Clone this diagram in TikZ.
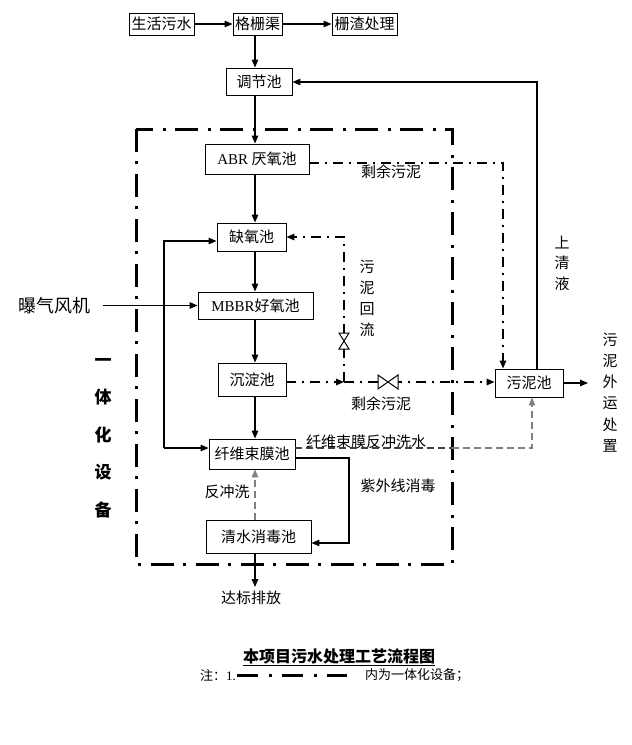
\documentclass[tikz,border=0pt]{standalone}
\usepackage{fontspec}
\setmainfont{Noto Sans CJK SC}
\newfontfamily\latin{Liberation Serif}
\usetikzlibrary{arrows.meta,calc}
\begin{document}
\begin{tikzpicture}[x=1pt,y=-1pt,
 box/.style={draw, line width=0.9pt, inner sep=0pt, font=\fontsize{15}{18}\selectfont},
 lbl/.style={inner sep=0pt, font=\fontsize{15}{18}\selectfont},
 vlbl/.style={inner sep=0pt, align=center, font=\fontsize{15}{#1}\selectfont},
 tip/.style={-{Triangle[length=8pt,width=6.5pt]}},
 ln/.style={line width=1.2pt},
 arr/.style={ln, tip},
 sdash/.style={line width=1.5pt, dash pattern=on 10pt off 6pt on 2pt off 6pt},
 bigdash/.style={line width=3pt, dash pattern=on 23pt off 9pt on 3pt off 10pt},
 gdash/.style={line width=1.1pt, gray, dash pattern=on 7pt off 4pt},
 kdash/.style={line width=1.1pt, black!75, dash pattern=on 7pt off 4pt},
 valve/.style={line width=1pt, fill=white},
]
\fill[white] (0,0) rectangle (632,745);
\useasboundingbox (0,0) rectangle (632,745);

% frame of the integrated unit
\draw[bigdash] (136,129) rectangle (452,564);

% boxes
\node[box, minimum width=65pt, minimum height=22pt] (sh) at (161.5,24) {生活污水};
\node[box, minimum width=49pt, minimum height=22pt] (gs) at (257.5,24) {格栅渠};
\node[box, minimum width=65pt, minimum height=22pt] (zz) at (364.5,24) {栅渣处理};
\node[box, minimum width=66pt, minimum height=27pt] (tj) at (259,81.5) {调节池};
\node[box, minimum width=104pt, minimum height=30pt] (abr) at (257,159) {{\latin ABR} 厌氧池};
\node[box, minimum width=69pt, minimum height=28pt] (qy) at (251.5,237) {缺氧池};
\node[box, minimum width=115pt, minimum height=27pt] (mb) at (255.5,305.5) {{\latin MBBR}好氧池};
\node[box, minimum width=68pt, minimum height=33pt] (cd) at (252,379.5) {沉淀池};
\node[box, minimum width=86pt, minimum height=30pt] (xw) at (252,454) {纤维束膜池};
\node[box, minimum width=105pt, minimum height=33pt] (qs) at (258.5,536.5) {清水消毒池};
\node[box, minimum width=68pt, minimum height=28pt] (wn) at (529,383) {污泥池};

% helper coordinates
\coordinate (ax) at (255,0);
\coordinate (lt) at (164,241);
\coordinate (lb) at (164,448);
\coordinate (j1) at (344,382);
\coordinate (ab) at (503,163);
\coordinate (sq) at (537,82);
\coordinate (bw) at (532,448);
\coordinate (uv1) at (349,458);
\coordinate (uv2) at (349,543);
\coordinate (out) at (588,383);
\coordinate (fan) at (103,305.5);
\coordinate (dis) at (255,587);

% texts
\node[inner sep=0pt, font=\fontsize{18}{20}\selectfont] (fj) at (54,306) {曝气风机};
\node[inner sep=0pt, align=center, font=\fontsize{17}{37.5}\selectfont\bfseries] (yt) at (103,438) {一\\体\\化\\设\\备};
\node[lbl] (sy1) at (391,172) {剩余污泥};
\node[lbl] (sy2) at (381,404) {剩余污泥};
\node[vlbl=21] (wh) at (367,298.5) {污\\泥\\回\\流};
\node[vlbl=20.5] (sqy) at (562,263) {上\\清\\液};
\node[vlbl=21.2] (wy) at (610,392.5) {污\\泥\\外\\运\\处\\置};
\node[lbl] (fcs) at (366,442) {纤维束膜反冲洗水};
\node[lbl] (zw) at (398,486) {紫外线消毒};
\node[lbl] (fc) at (227,492) {反冲洗};
\node[lbl] (db) at (251,598) {达标排放};
\node[inner sep=0pt, font=\fontsize{16}{18}\selectfont\bfseries] (title) at (339,657) {\underline{本项目污水处理工艺流程图}};
\node[inner sep=0pt, anchor=west, font=\fontsize{13}{15}\selectfont] (note) at (200,675) {注：{\latin 1.}};
\node[inner sep=0pt, anchor=west, font=\fontsize{13}{15}\selectfont] (note2) at (365,675) {内为一体化设备；};
\draw[line width=3pt, dash pattern=on 21pt off 11pt on 3pt off 10pt] (237,675) -- (347,675);

% main flow
\draw[arr] (sh) -- (gs);
\draw[arr] (gs) -- (zz);
\draw[arr] (gs.south -| ax) -- (tj.north -| ax);
\draw[arr] (tj.south -| ax) -- (abr.north -| ax);
\draw[arr] (abr.south -| ax) -- (qy.north -| ax);
\draw[arr] (qy.south -| ax) -- (mb.north -| ax);
\draw[arr] (mb.south -| ax) -- (cd.north -| ax);
\draw[arr] (cd.south -| ax) -- (xw.north -| ax);
\draw[gdash, tip] (qs.north -| ax) -- (xw.south -| ax);
\draw[arr] (qs.south -| ax) -- (dis);

% blower
\draw[arr] (fan) -- (mb.west);

% left bypass
\draw[arr] (lb) -- (lt) -- (lt -| qy.west);
\draw[arr] (lb) -- (lb -| xw.west);

% UV disinfection loop
\draw[arr] (xw.east |- uv1) -- (uv1) -- (uv2) -- (uv2 -| qs.east);

% backwash water to sludge tank
\draw[kdash] (xw.east |- bw) -- (bw -| 452,0);
\draw[gdash, tip] (bw -| 452,0) -- (bw) -- (bw |- wn.south);

% excess sludge from ABR
\draw[sdash, tip] (abr.east |- ab) -- (ab) -- (ab |- wn.north);

% sludge from settling tank
\draw[sdash, tip] (cd.east |- j1) -- (j1);
\draw[sdash, tip] (j1) -- (j1 -| wn.west);
\draw[sdash, tip] (j1) -- (j1 |- qy.east) -- (qy.east);
\draw[valve] (378,375) -- (378,389) -- (398,375) -- (398,389) -- cycle;
\draw[valve] (339,333) -- (349,333) -- (339,349) -- (349,349) -- cycle;

% supernatant back to equalisation tank
\draw[arr] (wn.north -| sq) -- (sq) -- (tj.east |- sq);

% sludge out
\draw[arr] (wn.east) -- (out);
\end{tikzpicture}
\end{document}
